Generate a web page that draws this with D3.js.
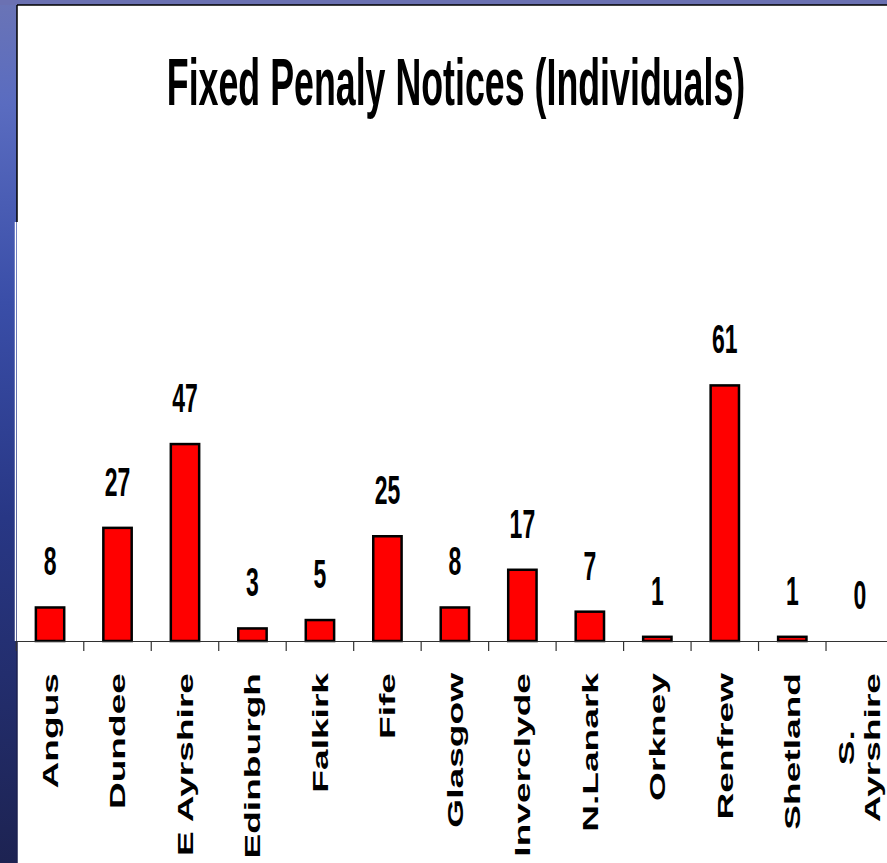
<!DOCTYPE html>
<html>
<head>
<meta charset="utf-8">
<script src="https://cdn.jsdelivr.net/npm/d3@7"></script>
<style>
  html, body { margin: 0; padding: 0; background: #ffffff; }
  svg { display: block; }
  text { font-family: "Liberation Sans", Arial, sans-serif; font-weight: bold; fill: #000; }
</style>
</head>
<body>
<svg id="chart" width="887" height="863"></svg>
<script>
// ---- data ----
const titleText = "Fixed Penaly Notices (Individuals)";
const categories = ["Angus", "Dundee", "E Ayrshire", "Edinburgh", "Falkirk", "Fife", "Glasgow",
                    "Inverclyde", "N.Lanark", "Orkney", "Renfrew", "Shetland", "S. Ayrshire"];
const values = [8, 27, 47, 3, 5, 25, 8, 17, 7, 1, 61, 1, 0];
const tickLabels = [["Angus"], ["Dundee"], ["E Ayrshire"], ["Edinburgh"], ["Falkirk"], ["Fife"], ["Glasgow"],
                    ["Inverclyde"], ["N.Lanark"], ["Orkney"], ["Renfrew"], ["Shetland"], ["S.", "Ayrshire"]];
const yDomain = [0, 100];

// ---- layout ----
const W = 887, H = 863;
const svg = d3.select("#chart");

// slide background
const defs = svg.append("defs");
const grad = defs.append("linearGradient").attr("id", "bgGrad")
  .attr("x1", 0).attr("y1", 0).attr("x2", 0).attr("y2", 1);
grad.append("stop").attr("offset", "0%").attr("stop-color", "#6a74b6");
grad.append("stop").attr("offset", "12%").attr("stop-color", "#5a6cc0");
grad.append("stop").attr("offset", "35%").attr("stop-color", "#3a4ea8");
grad.append("stop").attr("offset", "60%").attr("stop-color", "#283785");
grad.append("stop").attr("offset", "100%").attr("stop-color", "#1d2352");
svg.append("rect").attr("x", 0).attr("y", 0).attr("width", W).attr("height", H).attr("fill", "url(#bgGrad)");
svg.append("rect").attr("x", 0).attr("y", 0).attr("width", W).attr("height", 5).attr("fill", "#6b71b2");

// white panel
svg.append("rect").attr("x", 17).attr("y", 5).attr("width", W).attr("height", H)
  .attr("fill", "#ffffff");
svg.append("line").attr("x1", 17).attr("x2", W).attr("y1", 5).attr("y2", 5)
  .attr("stroke", "#000").attr("stroke-width", 1.5);
svg.append("line").attr("x1", 17).attr("x2", 17).attr("y1", 5).attr("y2", 222)
  .attr("stroke", "#000").attr("stroke-width", 1.5);
svg.append("line").attr("x1", 15.5).attr("x2", 15.5).attr("y1", 222).attr("y2", 641)
  .attr("stroke", "#ffffff").attr("stroke-width", 1.5);
svg.append("line").attr("x1", 17).attr("x2", 17).attr("y1", 641).attr("y2", H)
  .attr("stroke", "#1c2250").attr("stroke-width", 1.5);

// scales
const x = d3.scaleBand().domain(categories).range([16.3, 893.5]).paddingInner(0).paddingOuter(0);
const y = d3.scaleLinear().domain(yDomain).range([641, 222]);
const barW = x.bandwidth() * 0.42;

// title
svg.append("text")
  .attr("transform", "translate(456,104.5) scale(0.542,1)")
  .attr("text-anchor", "middle")
  .attr("font-size", 66)
  .text(titleText);

// bars
svg.append("g").selectAll("rect")
  .data(categories.map((c, i) => ({ c, v: values[i] })))
  .join("rect")
  .attr("x", d => x(d.c) + (x.bandwidth() - barW) / 2)
  .attr("y", d => y(d.v))
  .attr("width", barW)
  .attr("height", d => y(0) - y(d.v))
  .attr("fill", "#ff0000")
  .attr("stroke", "#000")
  .attr("stroke-width", d => d.v > 0 ? 2.5 : 0);

// value labels
svg.append("g").selectAll("text")
  .data(categories.map((c, i) => ({ c, v: values[i] })))
  .join("text")
  .attr("transform", d => `translate(${x(d.c) + x.bandwidth() / 2},${y(d.v) - 32}) scale(0.56,1)`)
  .attr("text-anchor", "middle")
  .attr("font-size", 41)
  .text(d => d.v);

// x axis
const axisG = svg.append("g").attr("transform", `translate(0,${y(0)})`)
  .call(d3.axisBottom(x).tickSize(0).tickFormat(""));
axisG.select(".domain").attr("stroke", "#333").attr("stroke-width", 1.2);
axisG.selectAll(".tick").remove();
const boundaries = categories.map(c => x(c)).concat([x.range()[1]]);
axisG.selectAll("line.bt").data(boundaries).join("line")
  .attr("class", "bt")
  .attr("x1", d => d).attr("x2", d => d)
  .attr("y1", 0).attr("y2", 10)
  .attr("stroke", "#333").attr("stroke-width", 1.2);

// category labels (rotated)
const labG = svg.append("g");
const lineGap = 26;
categories.forEach((c, i) => {
  const lines = tickLabels[i];
  const cx = x(c) + x.bandwidth() / 2;
  const g = labG.append("g")
    .attr("transform", `translate(${cx},673) rotate(-90) scale(1.65,1)`);
  const texts = lines.map((ln, j) => g.append("text")
    .attr("font-size", 22.5)
    .attr("text-anchor", "middle")
    .attr("dominant-baseline", "central")
    .attr("y", (j - (lines.length - 1) / 2) * lineGap)
    .text(ln));
  const maxLen = d3.max(texts, t => t.node().getComputedTextLength());
  texts.forEach(t => t.attr("x", -maxLen / 2));
});
</script>
</body>
</html>
